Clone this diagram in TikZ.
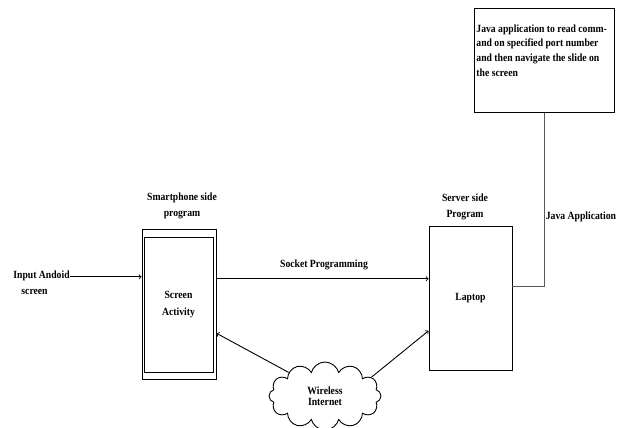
\documentclass[tikz,border=0pt]{standalone}
\usepackage{fontspec}
\setmainfont[FakeStretch=0.88]{Liberation Serif}
\usetikzlibrary{positioning,shapes.symbols}

\begin{document}
\begin{tikzpicture}[x=1pt,y=-1pt,line width=0.9pt,
  box/.style={draw,inner sep=0pt},
  lbl/.style={font=\fontsize{11}{16.5}\selectfont\bfseries,align=center,inner sep=0pt}]
  \useasboundingbox (0,0) rectangle (622,428);
  % smartphone side
  \node[box,minimum width=74pt,minimum height=150pt] (phone) at (179,304) {};
  \node[box,lbl,minimum width=69pt,minimum height=135pt] (screen) at (178.5,304.5) {Screen\\Activity};
  \node[lbl] (phonelbl) at (182,206) {Smartphone side\\program};
  \node[lbl,align=left,anchor=west] (input) at (13,282.5) {Input Andoid\\\hspace*{8pt}screen};
  % server side
  \node[box,lbl,minimum width=83pt,minimum height=144pt] (laptop) at (470.5,298) {Laptop};
  \node[lbl] (serverlbl) at (465,207) {Server side\\Program};
  \node[lbl] (socketlbl) at (324,265) {Socket Programming};
  \node[lbl] (javalbl) at (581,217) {Java Application};
  \node[box,anchor=north west,inner xsep=2pt,minimum width=139pt,minimum height=104pt] (java) at (474,8)
    {\parbox[t][104pt][t]{136pt}{\raggedright\fontsize{11}{14.7}\selectfont\bfseries\vspace*{16pt}%
      Java application to read comm-\\and on specified port number\\and then navigate the slide on\\the screen}};
  % wireless link
  \node[draw,cloud,cloud puffs=12,aspect=1.7,minimum width=112pt,minimum height=68pt,
    lbl,font=\fontsize{11}{11.5}\selectfont\bfseries] (wifi) at (325,396) {Wireless\\Internet};
  % connectors
  \draw[->] (input.east |- phone.144) -- (phone.144);
  \draw[->] (phone.34) -- (phone.34 -| laptop.west);
  \draw[->] (wifi.147) -- (phone.-38);
  \draw[->] (wifi.22) -- (laptop.218);
  \draw[black!65] (laptop.16) -| (java.south);
\end{tikzpicture}
\end{document}
